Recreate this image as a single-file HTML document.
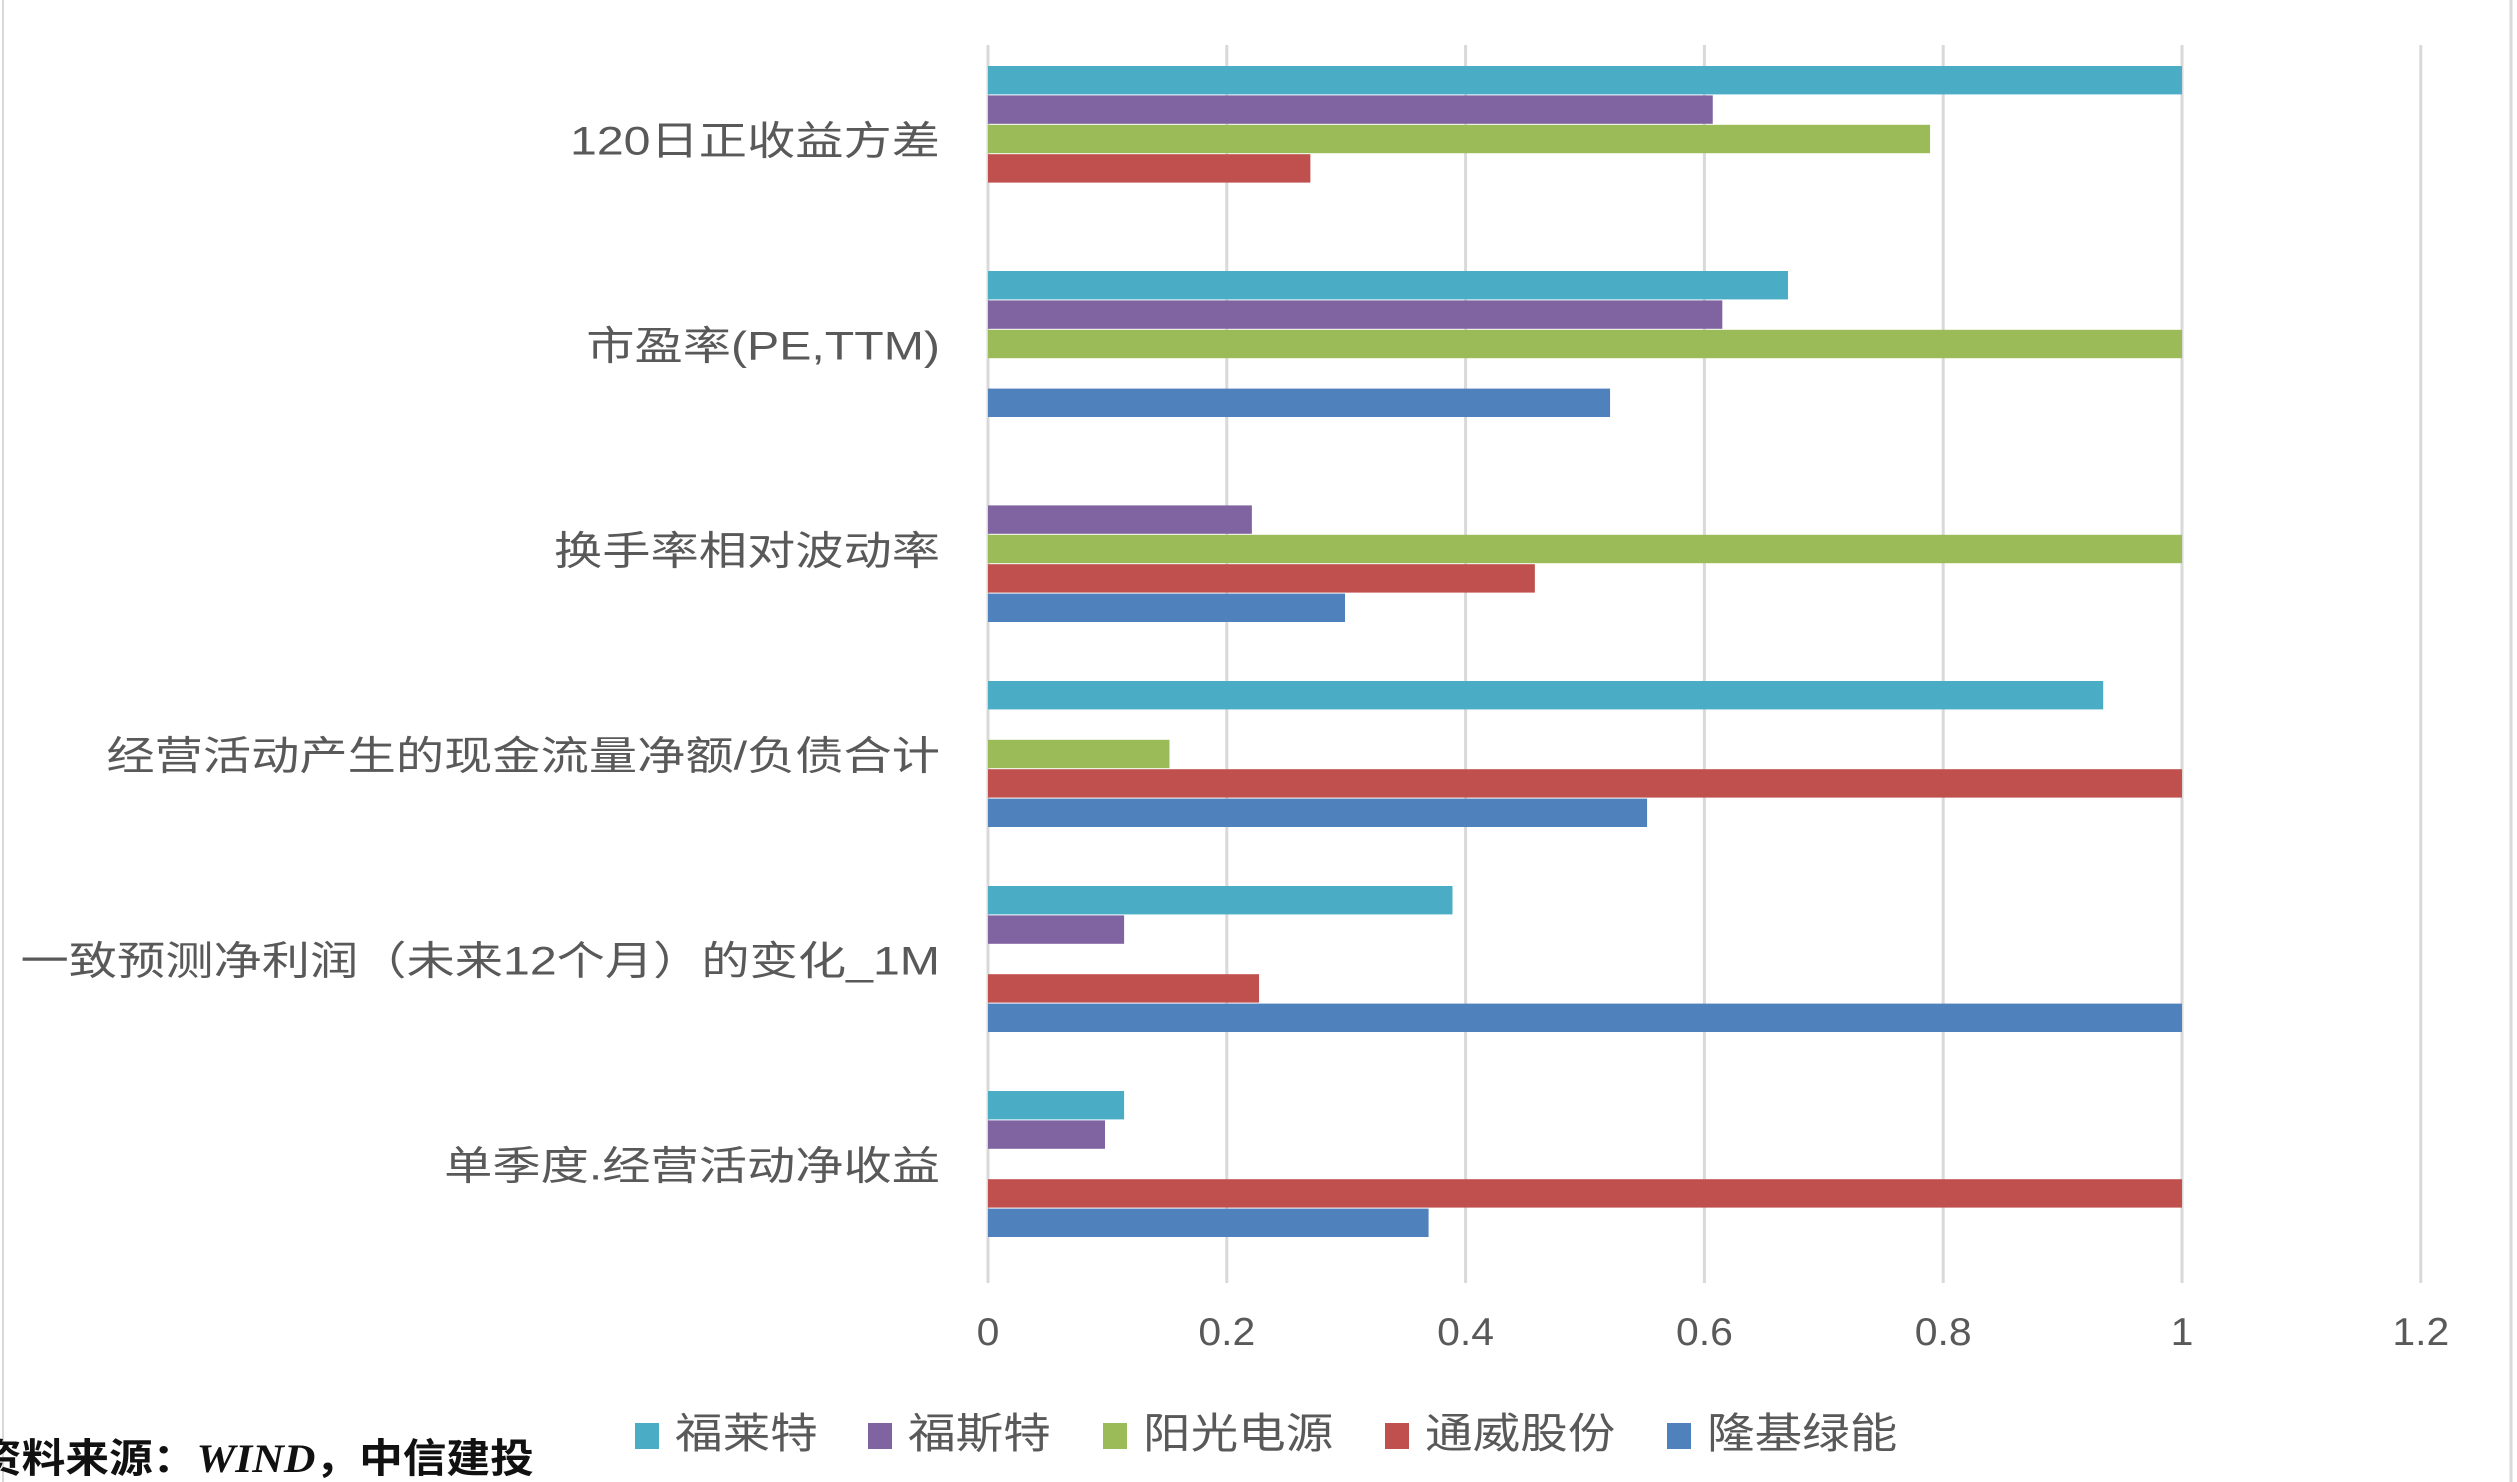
<!DOCTYPE html>
<html><head><meta charset="utf-8"><style>
html,body{margin:0;padding:0;background:#fff;width:2517px;height:1482px;overflow:hidden}
svg{display:block}
text{font-family:"Liberation Sans","Noto Sans CJK SC",sans-serif}
</style></head><body>
<svg id="chart" width="2517" height="1482" viewBox="0 0 2517 1482" xmlns="http://www.w3.org/2000/svg">
<line x1="3" y1="0" x2="3" y2="1482" stroke="#d9d9d9" stroke-width="2"/>
<line x1="2511" y1="0" x2="2511" y2="1482" stroke="#d9d9d9" stroke-width="3"/>
<g id="grid"></g><g id="bars"></g><g id="labels"></g><g id="legend"></g>
<text transform="translate(-22,1472) scale(1.15,1.05)" x="0" y="0" font-size="38" fill="#111" font-weight="bold">资料来源：<tspan font-family="Liberation Serif" font-style="italic">WIND</tspan>，中信建投</text>
</svg>
<script>
const categories=["120日正收益方差","市盈率(PE,TTM)","换手率相对波动率","经营活动产生的现金流量净额/负债合计","一致预测净利润（未来12个月）的变化_1M","单季度.经营活动净收益"];
const seriesNames=["福莱特","福斯特","阳光电源","通威股份","隆基绿能"];
const seriesColors=["#4BACC6","#8064A2","#9BBB59","#C0504D","#4F81BD"];
const s0=[1,0.67,null,0.934,0.389,0.114];
const s1=[0.607,0.615,0.221,null,0.114,0.098];
const s2=[0.789,1,1,0.152,null,null];
const s3=[0.27,null,0.458,1,0.227,1];
const s4=[null,0.521,0.299,0.552,1,0.369];
const ticks=[0,0.2,0.4,0.6,0.8,1,1.2];
const series=[s0,s1,s2,s3,s4];
const NS="http://www.w3.org/2000/svg";
const x=v=>988+v*1194;
const bandTop=i=>37+i*205;
const barH=29.4;
const barY=(i,k)=>bandTop(i)+29+k*barH;
function mk(t,a,p){const e=document.createElementNS(NS,t);for(const k in a)e.setAttribute(k,a[k]);p.appendChild(e);return e;}
const grid=document.getElementById('grid');
ticks.forEach(t=>{
 const l=mk('line',{x1:x(t),x2:x(t),y1:45,y2:1283,stroke:'#d9d9d9','stroke-width':3},grid);
 
 
 const tx=mk('text',{transform:`translate(${x(t)},1345) scale(1.05,1)`,x:0,y:0,'font-size':39,fill:'#595959','text-anchor':'middle'},grid);
 tx.textContent=String(t);
 
 
});
const bars=document.getElementById('bars');
categories.forEach((c,i)=>{
 series.forEach((s,k)=>{
  if(s[i]==null)return;
  const r=mk('rect',{x:x(0),y:barY(i,k),width:x(s[i])-x(0),height:barH-1,fill:seriesColors[k]},bars);
  
  
 });
 const ty=barY(i,2)+barH/2+15;
 const t=mk('text',{transform:`translate(940,${ty}) scale(1.27,1.05)`,x:0,y:0,'font-size':38,fill:'#595959','text-anchor':'end'},document.getElementById('labels'));
 t.textContent=c;
 
 
});
const lx=[635,868,1103,1385,1667];
const lg=document.getElementById('legend');
seriesNames.forEach((n,k)=>{
 const r=mk('rect',{x:lx[k],y:1423,width:24,height:26,fill:seriesColors[k]},lg);
 
 
 const t=mk('text',{transform:`translate(${lx[k]+40},1448) scale(1.19,1.05)`,x:0,y:0,'font-size':40,fill:'#595959'},lg);
 t.textContent=n;
 
 
});
</script>
</body></html>
